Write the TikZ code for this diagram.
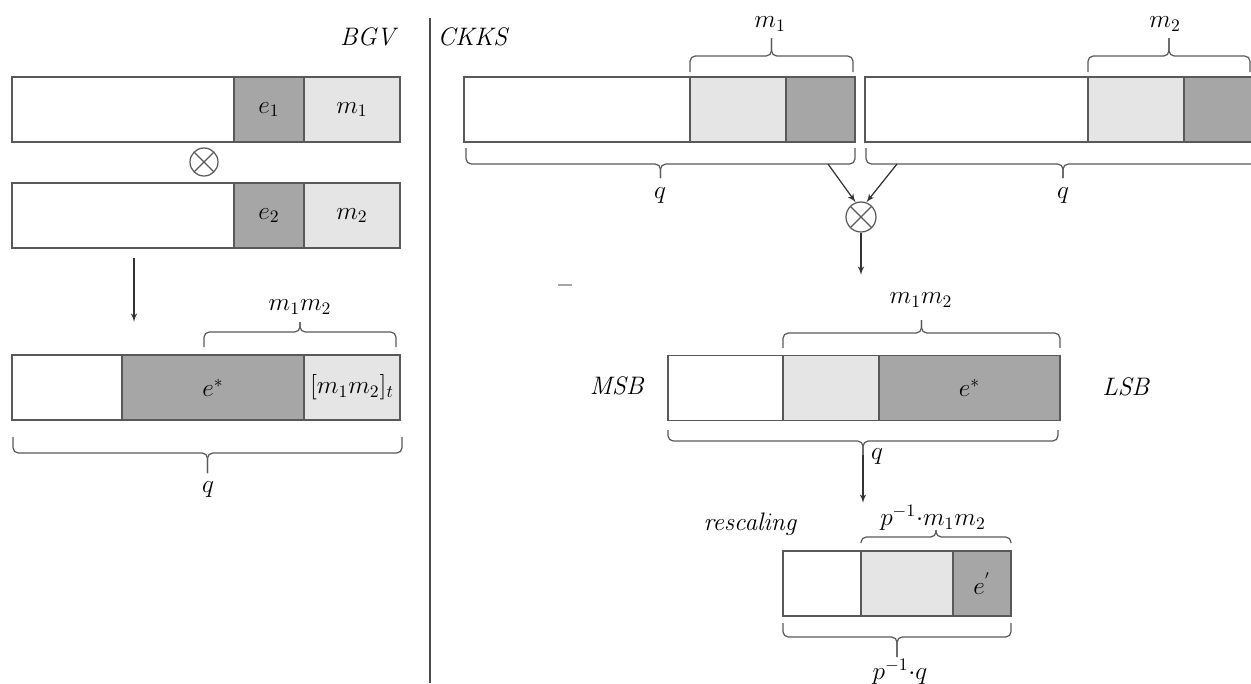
\documentclass[tikz,border=0pt]{standalone}
\usepackage{amsmath}
\usepackage{xcolor}
\usepackage{tikz}
\usetikzlibrary{arrows, positioning}

% brace: left x, right x, y of the ends, y of the bar, y of the tip
\newcommand{\capbrace}[5]{%
    \draw [bracepath] (#1,#3) -- (#1,#4) -- ({(#1+#2)/2},#4) -- ({(#1+#2)/2},#5);
    \draw [bracepath] (#2,#3) -- (#2,#4) -- ({(#1+#2)/2},#4) -- ({(#1+#2)/2},#5);}

\begin{document}
\begin{tikzpicture}[x=0.02cm, y=-0.02cm, font=\fontsize{14}{17}\selectfont]
        \tikzstyle{cell} = [rectangle, draw=black!65, line width=0.7pt, minimum height=1.3cm, inner sep=0pt, outer sep=0pt]
        \tikzstyle{blank} = [cell, fill=white]
        \tikzstyle{light} = [cell, fill=black!10]
        \tikzstyle{dark} = [cell, fill=black!35]
        \tikzstyle{prod} = [circle, draw=black!65, line width=0.7pt, minimum size=0.56cm, inner sep=0pt, path picture={\draw[black!65, line width=0.7pt] (path picture bounding box.north west) -- (path picture bounding box.south east) (path picture bounding box.north east) -- (path picture bounding box.south west);}]
        \tikzstyle{line} = [draw, -latex', line width=0.7pt, black!80]
        \tikzstyle{bracepath} = [draw, black!65, line width=0.7pt, rounded corners=3pt]
        \useasboundingbox (0,0) rectangle (1251,683);

        % BGV
        \node (bgv) at (370,37) {$\mathit{BGV}$};
        \node [blank, anchor=west, minimum width=4.44cm] (a1) at (12,109.5) {};
        \node [dark, right=0pt of a1, minimum width=1.40cm] (e1) {$e_1$};
        \node [light, right=0pt of e1, minimum width=1.92cm] (m1) {$m_1$};
        \node [prod] (x1) at (204,162) {};
        \node [blank, anchor=west, minimum width=4.44cm] (a2) at (12,215.5) {};
        \node [dark, right=0pt of a2, minimum width=1.40cm] (e2) {$e_2$};
        \node [light, right=0pt of e2, minimum width=1.92cm] (m2) {$m_2$};
        \coordinate (p1) at (134,258);
        \coordinate (p2) at (134,322);
        \path [line] (p1) -- (p2);
        \node [blank, anchor=west, minimum width=2.20cm] (a3) at (12,387.5) {};
        \node [dark, right=0pt of a3, minimum width=3.64cm] (e3) {$e^*$};
        \node [light, right=0pt of e3, minimum width=1.92cm] (m3) {$[m_1m_2]_t$};
        \capbrace{204}{396}{347}{332}{322}
        \node (bm3) at (300,307) {$m_1m_2$};
        \capbrace{13}{402}{437}{453}{473}
        \node (bq3) at (208,490) {$q$};

        \draw [black!70, line width=0.7pt] (430,18) -- (430,683);

        % CKKS
        \node (ckks) at (474,37) {$\mathit{CKKS}$};
        \node [blank, anchor=west, minimum width=4.52cm] (ca) at (464,109.5) {};
        \node [light, right=0pt of ca, minimum width=1.92cm] (cam) {};
        \node [dark, right=0pt of cam, minimum width=1.38cm] (cae) {};
        \node [blank, anchor=west, minimum width=4.46cm] (cb) at (865,109.5) {};
        \node [light, right=0pt of cb, minimum width=1.92cm] (cbm) {};
        \node [dark, right=0pt of cbm, minimum width=1.60cm] (cbe) {};
        \capbrace{690}{853}{72}{56}{38}
        \node (lm1) at (770,24) {$m_1$};
        \capbrace{1088}{1250}{72}{56}{38}
        \node (lm2) at (1165,24) {$m_2$};
        \capbrace{466}{855}{148}{164}{178}
        \node (lqa) at (660,196) {$q$};
        \capbrace{866}{1260}{148}{164}{178}
        \node (lqb) at (1063,196) {$q$};
        \node [prod, minimum size=0.6cm] (x2) at (861,217) {};
        \coordinate (ta) at (828,164);
        \coordinate (tb) at (897,164);
        \path [line] (ta) -- (x2.110);
        \path [line] (tb) -- (x2.70);
        \coordinate (p3) at (861,275);
        \path [line] (x2) -- (p3);
        \draw [black!35, line width=0.7pt] (558,285) -- (572,285);

        \node [blank, anchor=west, minimum width=2.30cm] (cc) at (668,388) {};
        \node [light, right=0pt of cc, minimum width=1.92cm] (ccm) {};
        \node [dark, right=0pt of ccm, minimum width=3.62cm] (cce) {$e^*$};
        \node (msb) at (618,386) {$\mathit{MSB}$};
        \node (lsb) at (1127,387) {$\mathit{LSB}$};
        \capbrace{783}{1060}{348}{333}{320}
        \node (lmc) at (921,300) {$m_1m_2$};
        \capbrace{668}{1058}{430}{441}{455}
        \node (lqc) at (877,457) {$q$};
        \coordinate (p4) at (863,455);
        \coordinate (p5) at (863,503);
        \path [line] (p4) -- (p5);

        \node (resc) at (751,524) {$\mathit{rescaling}$};
        \node [blank, anchor=west, minimum width=1.56cm] (cd) at (783,583.5) {};
        \node [light, right=0pt of cd, minimum width=1.84cm] (cdm) {};
        \node [dark, right=0pt of cdm, minimum width=1.16cm] (cde) {$e^{'}$};
        \capbrace{861}{1011}{543}{537}{530}
        \node (lmd) at (933,518) {$p^{-1}{\cdot}m_1m_2$};
        \capbrace{783}{1011}{623}{637}{657}
        \node (lqd) at (900,672) {$p^{-1}{\cdot}q$};
    \end{tikzpicture}
\end{document}
